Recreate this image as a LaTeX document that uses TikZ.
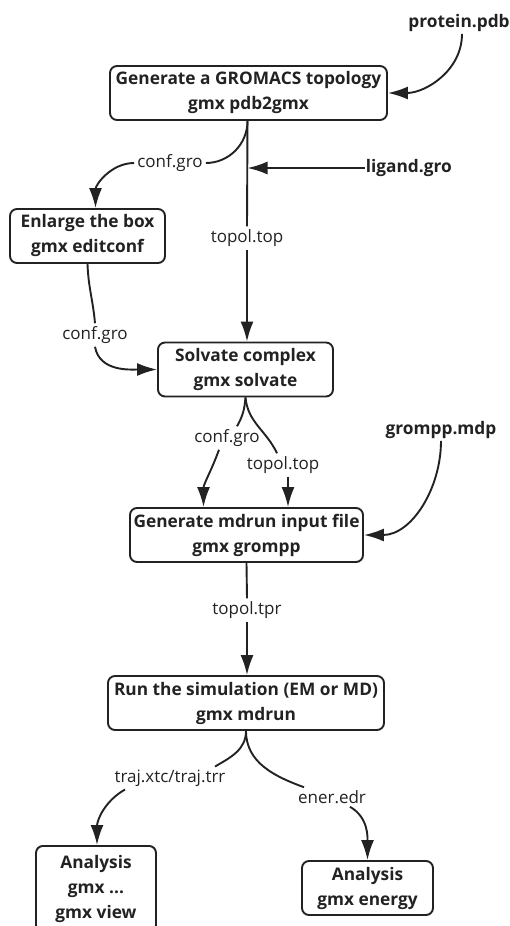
\documentclass[tikz,border=0pt]{standalone}
\usepackage{fontspec}
\setmainfont{Open Sans}
\usetikzlibrary{arrows.meta}
\definecolor{ink}{HTML}{222222}
\begin{document}
\begin{tikzpicture}[x=1pt,y=-1pt,
 box/.style={draw=ink, line width=1.9pt, rounded corners=7pt, align=center, font=\bfseries\fontsize{17.3}{25}\selectfont, text=ink, minimum height=54pt, inner sep=2pt},
 lbl/.style={font=\fontsize{17}{20}\selectfont, text=ink, inner sep=3pt},
 inp/.style={font=\bfseries\fontsize{17.3}{20}\selectfont, text=ink, inner sep=2pt},
 conn/.style={draw=ink, line width=1.9pt},
 arr/.style={conn, -{Latex[length=20pt,width=13pt]}},
]
\clip (0,0) rectangle (509,926);
% boxes
\node[box, minimum width=277pt] (b1) at (248.5,93) {Generate a GROMACS topology\\gmx pdb2gmx};
\node[box, minimum width=155pt] (enl) at (87.5,236) {Enlarge the box\\gmx editconf};
\node[box, minimum width=175pt] (solv) at (245.5,369.5) {Solvate complex\\gmx solvate};
\node[box, minimum width=233pt] (gpp) at (246.5,535) {Generate mdrun input file\\gmx grompp};
\node[box, minimum width=276pt] (mdr) at (246,703) {Run the simulation (EM or MD)\\gmx mdrun};
\node[box, minimum width=120pt, minimum height=86pt, anchor=north] (an1) at (96,845) {Analysis\\gmx ...\\gmx view};
\node[box, minimum width=131pt] (an2) at (367.5,888) {Analysis\\gmx energy};
% inputs
\node[inp] (pdb) at (459,23) {protein.pdb};
\node[inp, anchor=east, inner sep=1pt] (lig) at (453,168) {ligand.gro};
\node[inp] (mdp) at (441,430) {grompp.mdp};
% labels
\node[lbl] (cA) at (170,163) {conf.gro};
\node[lbl] (tA) at (247,238) {topol.top};
\node[lbl] (cB) at (95,335) {conf.gro};
\node[lbl] (cC) at (227,438) {conf.gro};
\node[lbl] (tC) at (283,465) {topol.top};
\node[lbl] (tpr) at (247,610) {topol.tpr};
\node[lbl] (trj) at (170,778) {traj.xtc/traj.trr};
\node[lbl] (ene) at (332,797) {ener.edr};
% connectors
\draw[arr] ([xshift=3pt]pdb.south) to[out=-90,in=0] (b1.east);
\draw[conn] ([xshift=-1pt]b1.south) to[out=-90,in=0] (cA.east);
\draw[arr] (cA.west) to[out=180,in=90] ([xshift=8pt]enl.north);
\draw[conn] ([xshift=-1pt]b1.south) -- (tA.north);
\draw[arr] (tA.south) -- (tA.south |- solv.north);
\coordinate (lj) at ([xshift=-1pt]b1.south |- lig.west);
\draw[arr] (lig.west) -- (lj);
\draw[conn] (enl.south) to[out=-88,in=95] (cB.north);
\draw[arr] (cB.south) to[out=-80,in=180] (solv.west);
\draw[conn] (solv.south) to[out=-95,in=60] ([xshift=10pt]cC.north);
\draw[arr] ([xshift=-8pt]cC.south) to[out=-110,in=90] ([xshift=-43pt]gpp.north);
\draw[conn] (solv.south) to[out=-85,in=115] ([xshift=-6pt]tC.north);
\draw[arr] ([xshift=5pt]tC.south) -- ([xshift=5pt]tC.south |- gpp.north);
\draw[arr] (mdp.south) to[out=-90,in=0] (gpp.east);
\draw[conn] (gpp.south) -- (tpr.north);
\draw[arr] (tpr.south) -- (tpr.south |- mdr.north);
\draw[conn] (mdr.south) to[out=-90,in=30] ([xshift=45pt]trj.north);
\draw[arr] ([xshift=-45pt]trj.south) to[out=210,in=90] ([xshift=1pt]an1.north);
\draw[conn] (mdr.south) to[out=-90,in=160] ([xshift=-28pt]ene.north);
\draw[arr] ([xshift=18pt]ene.south) to[out=-30,in=90] (an2.north);
\end{tikzpicture}
\end{document}
